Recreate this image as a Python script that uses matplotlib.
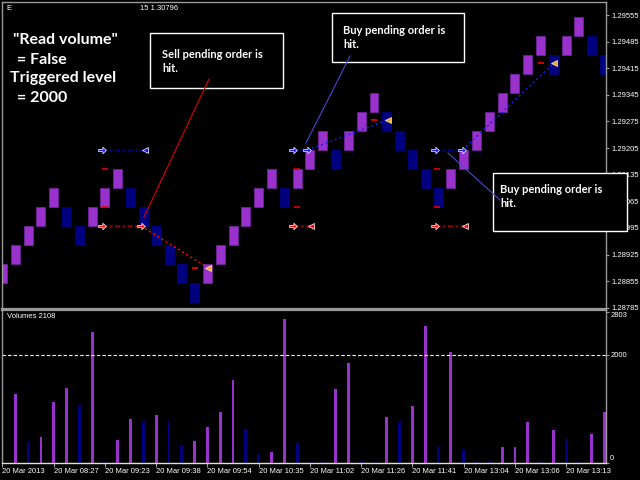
import matplotlib
matplotlib.use("Agg")
import matplotlib.pyplot as plt
from matplotlib.path import Path
from matplotlib.patches import Rectangle

# ── data ──────────────────────────────────────────────────────────────────
BOX = 0.0005  # renko brick size (5 pips)
brick_low = [1.2885, 1.2890, 1.2895, 1.2900, 1.2905, 1.2900, 1.2895, 1.2900,
             1.2905, 1.2910, 1.2905, 1.2900, 1.2895, 1.2890, 1.2885, 1.2880,
             1.2885, 1.2890, 1.2895, 1.2900, 1.2905, 1.2910, 1.2905, 1.2910,
             1.2915, 1.2920, 1.2915, 1.2920, 1.2925, 1.2930, 1.2925, 1.2920,
             1.2915, 1.2910, 1.2905, 1.2910, 1.2915, 1.2920, 1.2925, 1.2930,
             1.2935, 1.2940, 1.2945, 1.2940, 1.2945, 1.2950, 1.2945, 1.2940]
brick_dir = ("uuuuu" "dd" "uuu" "dddddd" "uuuuuu" "d" "uuu" "d" "uuu"
             "ddddd" "uuuuuuuu" "d" "uu" "dd")

volumes = [417, 1270, 386, 467, 1121, 1389, 1046, 2435, 15, 417,
           810, 760, 884, 747, 311, 392, 660, 940, 1538, 623,
           156, 193, 2678, 355, 15, 15, 1370, 1856, 15, 15,
           847, 747, 1046, 2553, 311, 2061, 237, 15, 15, 286,
           286, 747, 15, 610, 430, 15, 523, 940]
vol_dir = "duduuududu" "ududduuuud" "duuddduudd" "uduududddu" "uududduu"

tick_bars = [0, 4, 8, 12, 16, 20, 24, 28, 32, 36, 40, 44]
tick_labels = ["20 Mar 2013", "20 Mar 08:27", "20 Mar 09:23", "20 Mar 09:38",
               "20 Mar 09:54", "20 Mar 10:35", "20 Mar 11:02", "20 Mar 11:26",
               "20 Mar 11:41", "20 Mar 13:04", "20 Mar 13:06", "20 Mar 13:13"]
price_ticks = [1.29555, 1.29485, 1.29415, 1.29345, 1.29275, 1.29205,
               1.29135, 1.29065, 1.28995, 1.28925, 1.28855, 1.28785]

# pending order pairs (buy stop above, sell stop below)
pend_bar = [7.8, 22.7, 33.8]
buy_level = [1.2920, 1.2920, 1.2920]
sell_level = [1.2900, 1.2900, 1.2900]
buy_end = [11.1, 23.8, 35.9]
buy_hit = [False, True, True]
sell_end = [10.8, 24.1, 36.1]
sell_hit = [True, False, False]
sl_bar = [8.0, 23.0, 33.9]
sl_buy = [1.2915, 1.2915, 1.2915]
sl_sell = [1.2905, 1.2905, 1.2905]
close_bar = [16.05, 30.1, 43.05]
close_price = [1.28890, 1.29279, 1.29429]
close_dash_bar = [15.0, 29.0, 42.0]

PURPLE, NAVY, FRAME = "#9932CC", "#000080", "#9A9A9A"
AX_FONT = dict(family="Liberation Sans", fontsize=5.5, color="white")
ARROW = Path([(-1, -0.3), (0.1, -0.3), (0.1, -0.85), (1, 0), (0.1, 0.85),
              (0.1, 0.3), (-1, 0.3), (-1, -0.3)], closed=True)

fig = plt.figure(figsize=(6.4, 4.8), dpi=100, facecolor="black")
W, H = 640, 480
ax = fig.add_axes([2 / W, (H - 309) / H, 604 / W, 307 / H], facecolor="black")
axv = fig.add_axes([2 / W, (H - 462.5) / H, 604 / W, 152.5 / H], facecolor="black")
X0, X1 = -0.039, 47.11

# ── bricks ──
xs = list(range(len(brick_low)))
ax.bar(xs, [BOX] * len(xs), bottom=brick_low, width=0.70,
       color=[PURPLE if d == "u" else NAVY for d in brick_dir],
       edgecolor=["#6E2396" if d == "u" else NAVY for d in brick_dir], linewidth=0.6)

# ── orders ──
for k in range(len(pend_bar)):
    for lvl, end, hit, col, dark in ((buy_level[k], buy_end[k], buy_hit[k], "#1A1AFF", "#00008B"),
                                     (sell_level[k], sell_end[k], sell_hit[k], "#FF1010", "#8B0000")):
        ax.plot([pend_bar[k], end], [lvl, lvl], color=dark, lw=1.8,
                linestyle=(0, (2, 1, 1, 1)), zorder=4)
        ax.plot(pend_bar[k], lvl, marker=ARROW, ms=5.5, mfc=col, mec="white", mew=0.5, zorder=6)
        if hit:
            ax.plot([end, close_bar[k]], [lvl, close_price[k]], color=col, lw=1.0,
                    linestyle=(0, (1.5, 2)), zorder=4)
            ax.plot(end, lvl, marker=ARROW, ms=5.5, mfc=col, mec="white", mew=0.5, zorder=6)
            ax.plot(close_bar[k], close_price[k], marker="<", ms=4.5, mfc="#F5A623",
                    mec="#FFF3C0", mew=0.5, zorder=6)
            ax.plot(close_dash_bar[k], close_price[k], marker="_", ms=5, mec="#FF0000",
                    mew=1.2, zorder=6)
        else:
            ax.plot(end, lvl, marker="<", ms=4.5, mfc=col, mec="white", mew=0.5, zorder=6)
    ax.plot([sl_bar[k]] * 2, [sl_buy[k], sl_sell[k]], linestyle="none", marker="_", ms=5,
            mec="#E00000", mew=1.2, zorder=6)

ax.set_xlim(X0, X1)
ax.set_ylim(1.287816, 1.295894)
ax.set_xticks([])
ax.yaxis.tick_right()
ax.set_yticks(price_ticks)
ax.set_yticklabels([f"{p:.5f}" for p in price_ticks], **AX_FONT)
ax.tick_params(axis="y", colors=FRAME, length=2.5, width=0.8, pad=1.5, labelcolor="white")
for s in ax.spines.values():
    s.set_color(FRAME)
    s.set_linewidth(1.0)
ax.spines["bottom"].set_linewidth(1.6)

# ── volumes ──
axv.bar(xs, volumes, width=0.22,
        color=[PURPLE if d == "u" else NAVY for d in vol_dir], linewidth=0)
axv.axhline(2000, color="white", lw=0.8, linestyle=(0, (3, 2)))
axv.set_xlim(X0, X1)
axv.set_ylim(0, 2845)
axv.yaxis.tick_right()
axv.set_yticks([0, 2000, 2803])
axv.set_yticklabels(["0", "2000", "2803"], **AX_FONT)
for lab, va in zip(axv.get_yticklabels(), ["bottom", "center", "top"]):
    lab.set_va(va)
axv.tick_params(axis="y", colors=FRAME, length=2.0, width=0.8, pad=1.0, labelcolor="white")
axv.set_xticks(tick_bars)
axv.set_xticklabels(tick_labels, ha="left", **AX_FONT)
axv.tick_params(axis="x", colors=FRAME, length=3, width=0.8, pad=1.2, labelcolor="white")
for s in axv.spines.values():
    s.set_color(FRAME)
    s.set_linewidth(1.0)
axv.spines["top"].set_linewidth(1.6)
axv.spines["bottom"].set_color("#E0E0E0")
axv.text(0.008, 0.955, "Volumes 2108", transform=axv.transAxes, ha="left", va="center", **AX_FONT)

# ── annotations (pixel overlay) ──
ov = fig.add_axes([0, 0, 1, 1], zorder=10)
ov.set_xlim(0, W)
ov.set_ylim(H, 0)
ov.axis("off")
ov.patch.set_alpha(0)
ov.text(6, 8, "E", va="center", **AX_FONT)
ov.text(140, 8, "15 1.30796", va="center", **AX_FONT)

big = dict(family=["Lato", "DejaVu Sans"], fontsize=11.5, fontweight="bold", color="white", va="baseline")
ov.text(13, 44, '"Read volume"', **big)
ov.text(13, 64, " = False", **big)
ov.text(10, 82, "Triggered level", **big)
ov.text(13, 102, " = 2000", **big)

note = dict(family=["Lato", "DejaVu Sans"], fontsize=8, fontweight="bold", color="white", va="baseline")
boxes = [((150, 33, 283, 88), (162, 58), "Sell pending order is"),
         ((332, 13, 464, 62), (343, 34), "Buy pending order is"),
         ((493, 173, 627, 231), (500, 193), "Buy pending order is")]
for (x0, y0, x1, y1), (tx, ty), txt in boxes:
    ov.add_patch(Rectangle((x0, y0), x1 - x0, y1 - y0, facecolor="black",
                           edgecolor="white", lw=1.0))
    ov.text(tx, ty, txt, **note)
    ov.text(tx, ty + 14, "hit.", **note)

ov.plot([209, 144], [79, 217], color="#E00000", lw=0.8)
ov.plot([350, 306], [56, 143], color="#4848D0", lw=0.8)
ov.plot([500, 448], [200, 153], color="#4848D0", lw=0.8)

fig.savefig("out.png", dpi=100, facecolor="black")
